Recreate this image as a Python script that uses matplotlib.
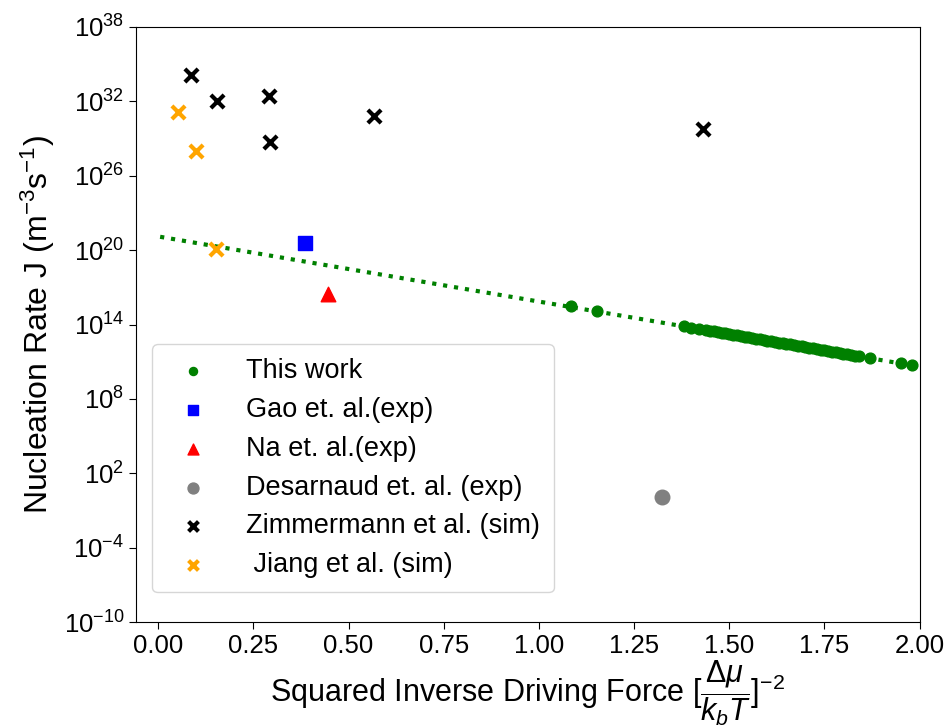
import matplotlib
matplotlib.use("Agg")
import matplotlib.pyplot as plt
import numpy as np

plt.rcParams['font.family'] = ['Liberation Sans', 'DejaVu Sans']
plt.rcParams['mathtext.fontset'] = 'custom'
plt.rcParams['mathtext.rm'] = 'Liberation Sans'
plt.rcParams['mathtext.it'] = 'Liberation Sans:italic'
plt.rcParams['mathtext.bf'] = 'Liberation Sans:bold'

# This work: squared inverse driving force vs log10 nucleation rate
this_x = [1.084, 1.152, 1.38, 1.40, 1.42, 1.44, 1.45, 1.46, 1.47, 1.48, 1.49,
          1.50, 1.51, 1.52, 1.53, 1.54, 1.55, 1.56, 1.57, 1.58, 1.59, 1.60,
          1.61, 1.62, 1.63, 1.64, 1.65, 1.66, 1.67, 1.68, 1.69, 1.70, 1.71,
          1.72, 1.73, 1.74, 1.75, 1.76, 1.77, 1.78, 1.79, 1.80, 1.81, 1.82,
          1.83, 1.84, 1.87, 1.95, 1.98]
this_logJ = [15.5, 15.1, 13.86, 13.75, 13.65, 13.54, 13.49, 13.44, 13.38, 13.33,
             13.28, 13.23, 13.17, 13.12, 13.07, 13.02, 12.96, 12.91, 12.86,
             12.81, 12.75, 12.70, 12.65, 12.60, 12.54, 12.49, 12.44, 12.39,
             12.33, 12.28, 12.23, 12.18, 12.12, 12.07, 12.02, 11.97, 11.91,
             11.86, 11.81, 11.76, 11.70, 11.65, 11.60, 11.55, 11.49, 11.44,
             11.28, 10.86, 10.73]

# Linear fit in log space: log10 J = fit_intercept + fit_slope * x
fit_intercept = 21.1
fit_slope = -5.25
fit_x_range = [0.005, 1.99]

gao_x, gao_logJ = [0.386], [20.6]
na_x, na_logJ = [0.446], [16.5]
desarnaud_x, desarnaud_logJ = [1.323], [0.1]
zimmermann_x = [0.087, 0.155, 0.291, 0.294, 0.567, 1.430]
zimmermann_logJ = [34.1, 32.0, 32.4, 28.7, 30.8, 29.8]
jiang_x = [0.052, 0.100, 0.152]
jiang_logJ = [31.1, 28.0, 20.1]

fig = plt.figure(figsize=(9.52, 7.26), dpi=100)
ax = fig.add_axes([0.143, 0.143, 0.823, 0.820])

fx = np.linspace(fit_x_range[0], fit_x_range[1], 200)
ax.plot(fx, 10.0 ** (fit_intercept + fit_slope * fx), ':', color='green', lw=3)

p = lambda v: 10.0 ** np.asarray(v)
ax.scatter(this_x, p(this_logJ), s=60, color='green', label='This work', zorder=3)
ax.scatter(gao_x, p(gao_logJ), s=110, marker='s', color='blue', label='Gao et. al.(exp)', zorder=3)
ax.scatter(na_x, p(na_logJ), s=110, marker='^', color='red', label='Na et. al.(exp)', zorder=3)
ax.scatter(desarnaud_x, p(desarnaud_logJ), s=110, marker='o', color='gray', label='Desarnaud et. al. (exp)', zorder=3)
ax.scatter(zimmermann_x, p(zimmermann_logJ), s=90, marker='x', color='black', linewidths=3, label='Zimmermann et al. (sim)', zorder=3)
ax.scatter(jiang_x, p(jiang_logJ), s=90, marker='x', color='orange', linewidths=3, label=' Jiang et al. (sim)', zorder=3)

ax.set_yscale('log')
ax.set_ylim(1e-10, 1e38)
ax.set_yticks([10.0 ** k for k in range(-10, 39, 6)])
ax.minorticks_off()
ax.set_xlim(-0.058, 2.0)
ax.set_xticks([0.0, 0.25, 0.5, 0.75, 1.0, 1.25, 1.5, 1.75, 2.0])
ax.set_xticklabels(['0.00', '0.25', '0.50', '0.75', '1.00', '1.25', '1.50', '1.75', '2.00'])
ax.tick_params(labelsize=18.5, length=5)

ax.set_ylabel(r'Nucleation Rate J (m$^{-3}$s$^{-1}$)', fontsize=23, labelpad=5)
ax.set_xlabel(r'Squared Inverse Driving Force [$\dfrac{\Delta\mu}{k_bT}$]$^{-2}$',
              fontsize=22, labelpad=0)

ax.legend(loc='lower left', bbox_to_anchor=(16 / 784, 30 / 595), borderaxespad=0,
          fontsize=19.5, borderpad=0.52, labelspacing=0.47, handlelength=2.0,
          handletextpad=0.93, markerscale=0.75)

fig.savefig('out.png', dpi=100)
